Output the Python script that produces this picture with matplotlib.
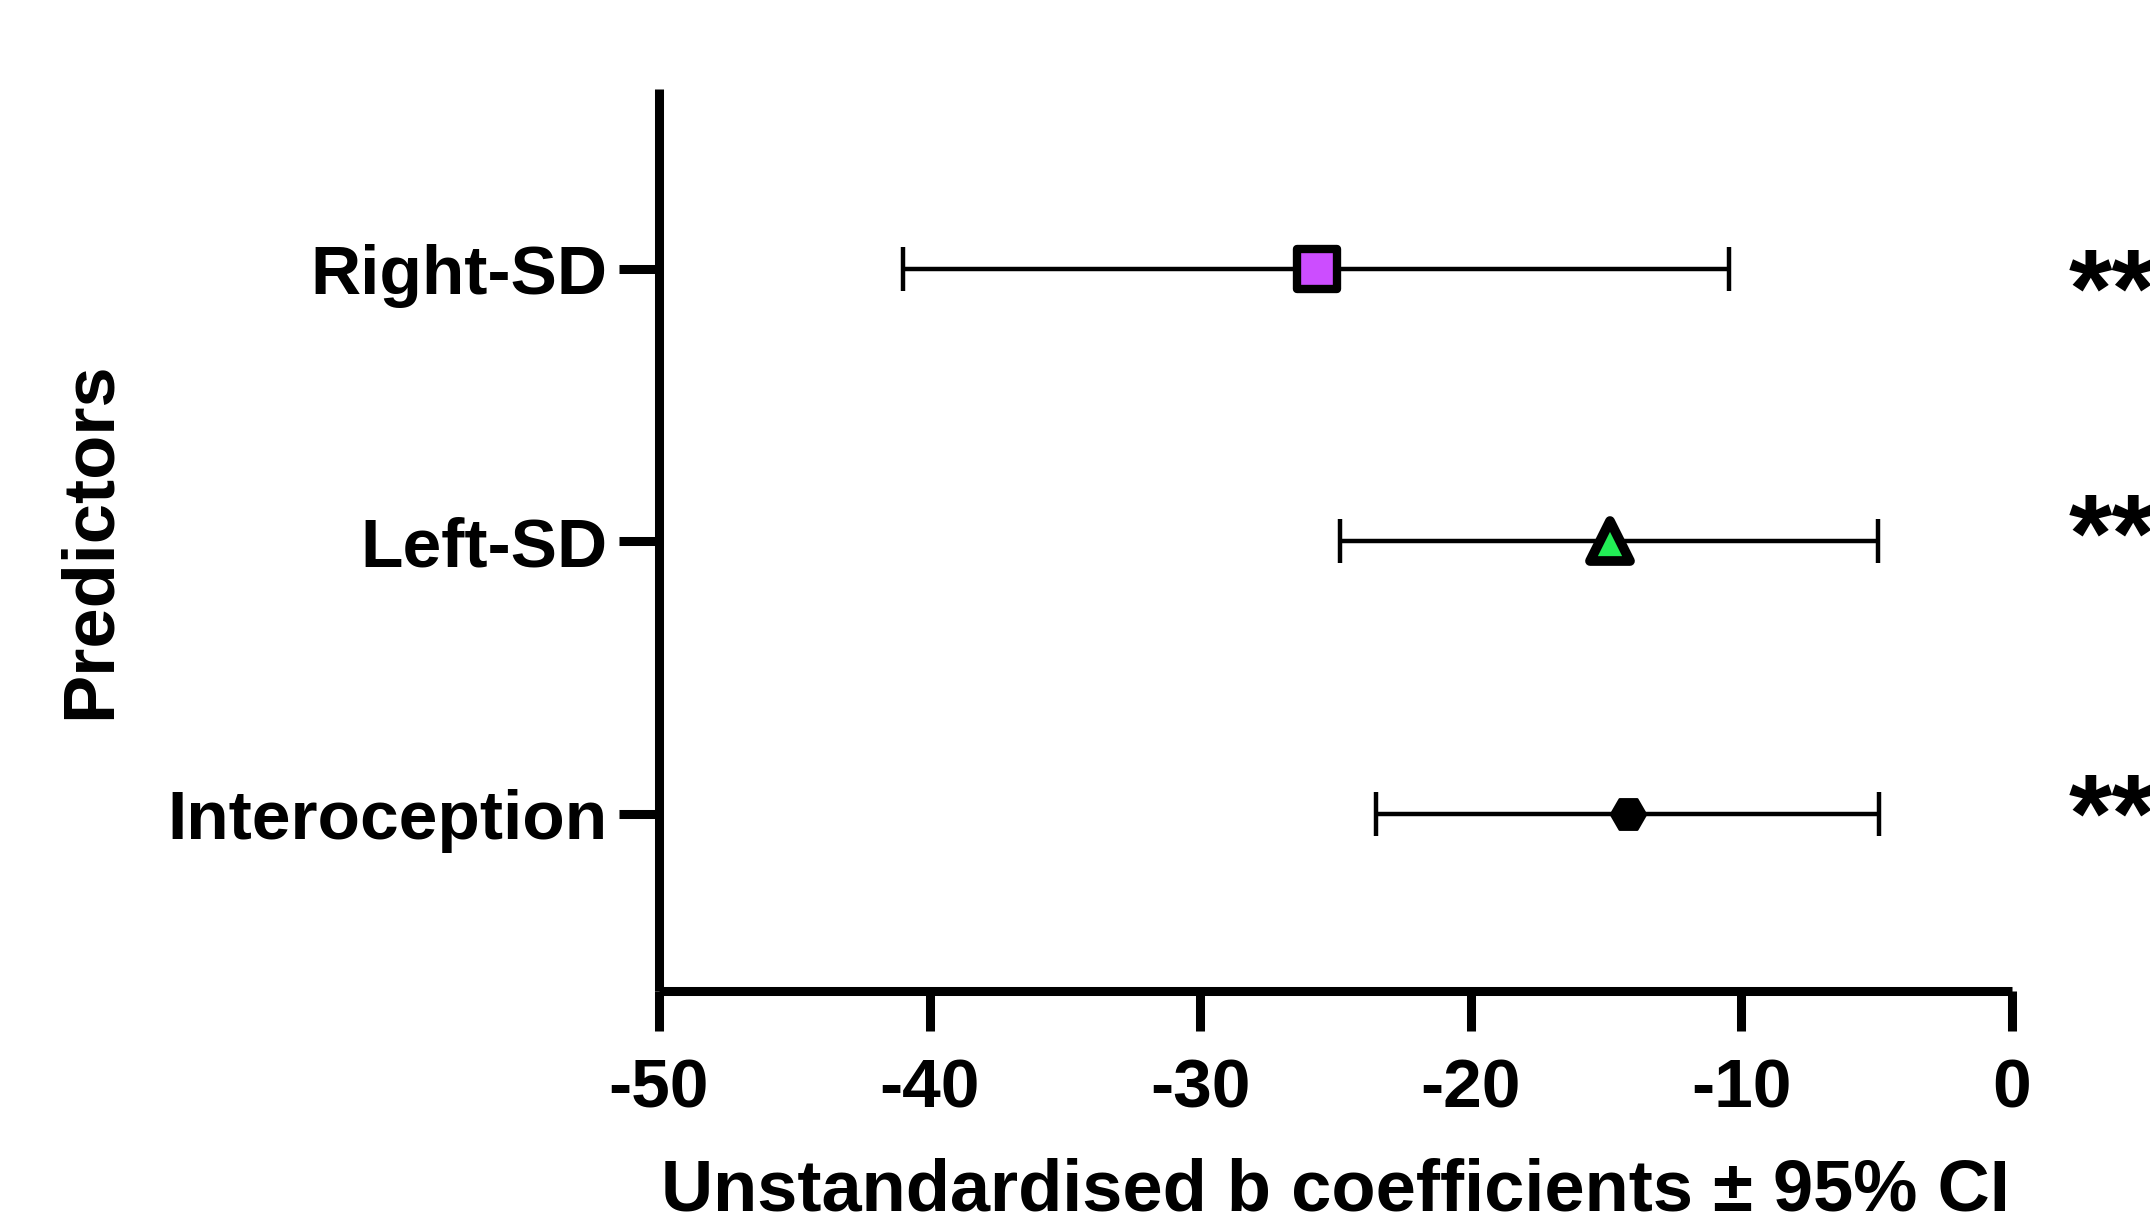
import numpy as np
from matplotlib import pyplot as plt
from matplotlib.markers import MarkerStyle

plt.rcParams['font.family'] = ['Liberation Sans', 'DejaVu Sans']
plt.rcParams['font.weight'] = 'bold'
plt.rcParams['axes.labelweight'] = 'bold'

# forest plot data: b coefficients with 95% CI
predictors = ["Interoception", "Left-SD", "Right-SD"]
b_coef = [-14.2, -14.85, -25.7]
ci_low = [-23.5, -24.85, -41.0]
ci_high = [-4.9, -4.95, -10.45]
signif = ["**", "**", "**"]
xticks = [-50, -40, -30, -20, -10, 0]

# marker styles per row
markers = ['H', '^', 's']
faces = ['black', '#22EE55', '#CC4DFF']
sizes = [25, 29, 29]
edges = [2, 7, 6]
star_dy = [0.14, 0.11, 0.21]

fig = plt.figure(figsize=(21.5, 12.15), dpi=100)
ax = fig.add_axes([0.3065, 0.1844, 0.6293, 0.7423])

ypos = np.arange(1, len(predictors) + 1)
for i in range(len(predictors)):
    b = b_coef[i]
    err = [[b - ci_low[i]], [ci_high[i] - b]]
    ax.errorbar(b, ypos[i], xerr=err, fmt='none', ecolor='black',
                elinewidth=3.2, capsize=16, capthick=3.2, zorder=2)
    ax.plot(b, ypos[i], linestyle='none',
            marker=MarkerStyle(markers[i], joinstyle='round'),
            markersize=sizes[i], markerfacecolor=faces[i],
            markeredgecolor='black', markeredgewidth=edges[i], zorder=3)
    # significance stars run off the right edge, as in the original figure
    ax.text(2.1, ypos[i] - star_dy[i], signif[i], fontsize=80,
            fontweight='bold', ha='left', va='baseline', clip_on=False)

ax.set_xlim(-50, 0)
ax.set_ylim(0.35, 3.66)
ax.set_xticks(xticks)
ax.set_xticklabels([str(t) for t in xticks])
ax.set_yticks(ypos)
ax.set_yticklabels(predictors)

for s in ['top', 'right']:
    ax.spines[s].set_visible(False)
for s in ['left', 'bottom']:
    ax.spines[s].set_linewidth(6.5)
    ax.spines[s].set_capstyle('butt')

ax.tick_params(axis='both', width=6.5, length=29, labelsize=50)
ax.tick_params(axis='x', pad=19)
ax.tick_params(axis='y', pad=8)

ax.set_xlabel("Unstandardised b coefficients \u00b1 95% CI", fontsize=52,
              fontweight='bold', labelpad=26)
ax.set_ylabel("Predictors", fontsize=52, fontweight='bold', labelpad=31)

fig.savefig("out.png", dpi=100)
